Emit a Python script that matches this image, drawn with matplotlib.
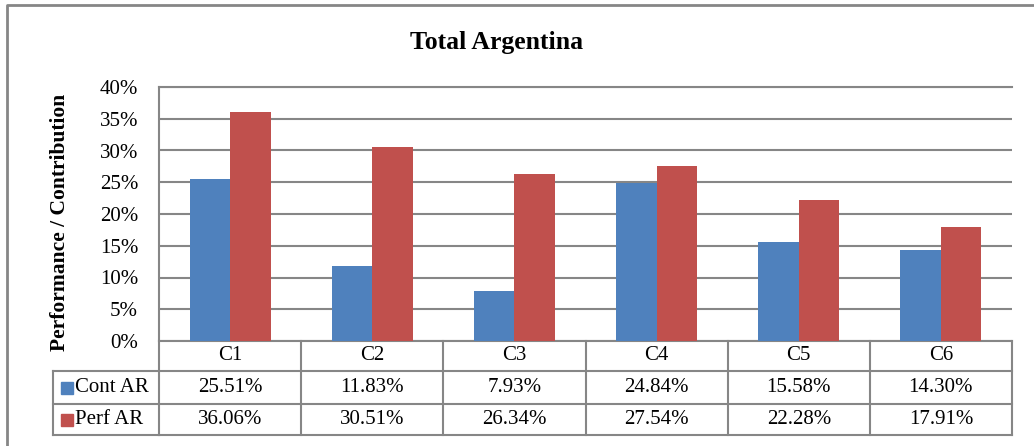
import matplotlib.pyplot as plt
import numpy as np
from matplotlib.transforms import blended_transform_factory

plt.rcParams['font.family'] = ['Liberation Serif', 'DejaVu Serif']

categories = ['C1', 'C2', 'C3', 'C4', 'C5', 'C6']
cont_ar = [25.51, 11.83, 7.93, 24.84, 15.58, 14.30]
perf_ar = [36.06, 30.51, 26.34, 27.54, 22.28, 17.91]
series_names = ['Cont AR', 'Perf AR']
yticks = [0, 5, 10, 15, 20, 25, 30, 35, 40]

blue = '#4F81BD'
red = '#C0504D'
grid = '#868686'

W, H = 1034, 446
fig = plt.figure(figsize=(W / 100, H / 100), dpi=100)

# overlay in pixel units for frame, table and labels
ov = fig.add_axes([0, 0, 1, 1])
ov.set_xlim(0, W)
ov.set_ylim(H, 0)
ov.axis('off')

left, right, top, bottom = 159, 1012, 87, 341
ax = fig.add_axes([left / W, 1 - bottom / H, (right - left) / W, (bottom - top) / H])
ax.set_zorder(2)
ax.patch.set_alpha(0)

x = np.arange(len(categories))
bw = 0.285
ax.bar(x - bw / 2, cont_ar, bw, color=blue)
ax.bar(x + bw / 2, perf_ar, bw, color=red)
ax.set_xlim(-0.5, len(categories) - 0.5)
ax.set_ylim(0, 40)
ax.set_yticks(yticks)
ax.set_yticklabels([f'{v}%' for v in yticks], fontsize=15)
ax.tick_params(axis='y', length=0, pad=15)
ax.set_xticks([])
ax.yaxis.grid(True, color=grid, lw=1.5)
ax.set_axisbelow(True)
for s in ['right', 'bottom']:
    ax.spines[s].set_visible(False)
ax.spines['top'].set_color(grid)
ax.spines['top'].set_linewidth(1.5)
ax.spines['left'].set_color(grid)
ax.spines['left'].set_linewidth(1.5)

# outer chart frame
ov.plot([7, 7, W + 5], [H + 5, 5, 5], color=grid, lw=2, clip_on=False)

ov.text(497, 42, 'Total Argentina', ha='center', va='center',
        fontsize=18.5, fontweight='bold')
ov.text(60, 222, 'Performance / Contribution', ha='center', va='center',
        rotation=90, fontsize=15.5, fontweight='bold')

# data table below the axis
tr = blended_transform_factory(ax.transData, ov.transData)
rows = [341, 371, 404, 435]
bounds = np.arange(len(categories) + 1) - 0.5
for b in bounds:
    ov.plot([b, b], [rows[0], rows[-1]], color=grid, lw=1.5, transform=tr)
ov.plot([bounds[0], bounds[-1]], [rows[0], rows[0]], color=grid, lw=1.5, transform=tr)
for r in rows[1:]:
    ov.plot([53, left], [r, r], color=grid, lw=1.5)
    ov.plot([bounds[0], bounds[-1]], [r, r], color=grid, lw=1.5, transform=tr)
ov.plot([53, 53], [rows[1], rows[-1]], color=grid, lw=1.5)

for i, c in enumerate(categories):
    ov.text(i, (rows[0] + rows[1]) / 2, c, ha='center', va='center',
            fontsize=15, transform=tr)
for j, (vals, name, col) in enumerate(zip([cont_ar, perf_ar], series_names, [blue, red])):
    yc = (rows[j + 1] + rows[j + 2]) / 2
    for i, v in enumerate(vals):
        ov.text(i, yc, f'{v:.2f}%', ha='center', va='center',
                fontsize=15, transform=tr)
    ov.add_patch(plt.Rectangle((61, yc - 6), 12, 12, color=col))
    ov.text(75, yc, name, ha='left', va='center', fontsize=15)

fig.savefig('out.png', dpi=100)
